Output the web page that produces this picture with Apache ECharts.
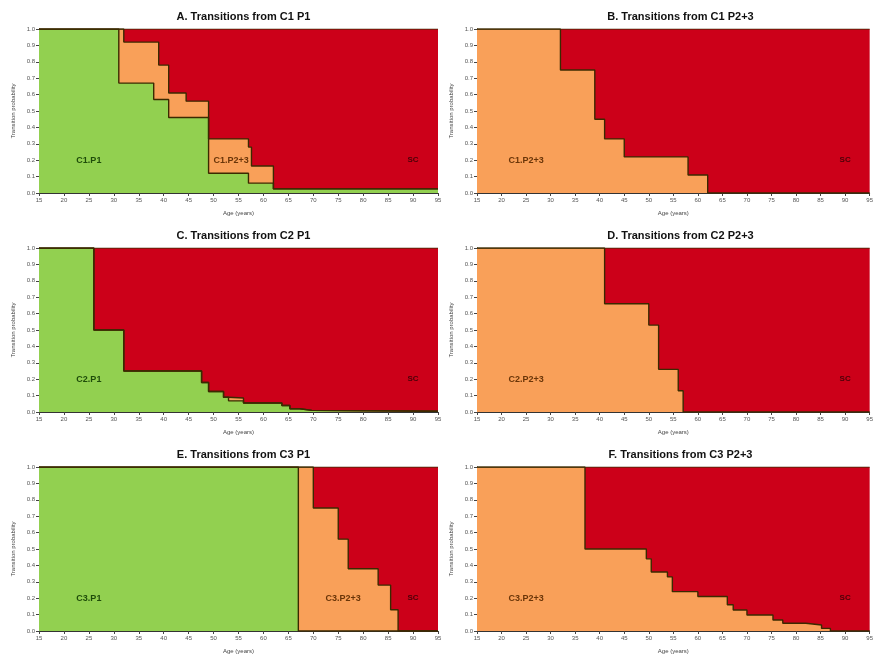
<!DOCTYPE html>
<html>
<head>
<meta charset="utf-8">
<script src="https://cdn.jsdelivr.net/npm/echarts@6/dist/echarts.min.js"></script>
<style>html,body{margin:0;padding:0;background:#fff}#c{width:876px;height:657px}</style>
</head>
<body>
<div id="c"></div>
<script>
// ---- Data (age, transition probability boundary) ----
const xTicksMin = 15, xTicksMax = 95;
const SC_TOP = [[15, 1], [95, 1]];

// A. C1 P1 : green boundary (C1.P1) and cumulative (C1.P1 + C1.P2+3)
const A_P1 = [[15, 1], [31, 0.67], [38, 0.57], [41, 0.46], [49, 0.12], [57, 0.06], [62, 0.025], [95, 0.025]];
const A_P23 = [[15, 1], [32, 0.92], [39, 0.78], [41, 0.61], [44.5, 0.56], [49, 0.33], [57, 0.28], [57.6, 0.165], [62, 0.025], [95, 0.025]];

// B. C1 P2+3
const B_P23 = [[15, 1], [32, 0.75], [39, 0.45], [41, 0.33], [45, 0.22], [58, 0.11], [62, 0], [95, 0]];

// C. C2 P1
const C_P1 = [[15, 1], [26, 0.5], [32, 0.25], [47.6, 0.18], [49, 0.125], [52, 0.09], [53, 0.068], [56, 0.055], [63.7, 0.04], [65.3, 0.02], [67.3, 0.01], [69.7, 0.005], [95, 0.005]];
const C_P23 = [[15, 1], [26, 0.5], [32, 0.25], [47.6, 0.18], [49, 0.125], [52, 0.09], [53, 0.085], [56, 0.055], [63.7, 0.04], [65.3, 0.02], [67.3, 0.01], [69.7, 0.005], [95, 0.005]];

// D. C2 P2+3
const D_P23 = [[15, 1], [41, 0.66], [50, 0.53], [52, 0.26], [56, 0.13], [57, 0], [95, 0]];

// E. C3 P1
const E_P1 = [[15, 1], [67, 0], [95, 0]];
const E_P23 = [[15, 1], [70, 0.75], [75, 0.56], [77, 0.38], [83, 0.28], [85.5, 0.13], [87, 0], [95, 0]];

// F. C3 P2+3
const F_P23 = [[15, 1], [37, 0.5], [49.5, 0.44], [50.5, 0.36], [53.8, 0.33], [54.8, 0.24], [60, 0.21], [66, 0.16], [67.2, 0.128], [70, 0.098], [75.3, 0.067], [77.3, 0.047], [82, 0.037], [85.2, 0.016], [87, 0], [95, 0]];

const titles = ['A. Transitions from C1 P1', 'B. Transitions from C1 P2+3', 'C. Transitions from C2 P1',
                'D. Transitions from C2 P2+3', 'E. Transitions from C3 P1', 'F. Transitions from C3 P2+3'];

// ---- Styles ----
const GREEN = '#92d050', ORANGE = '#f9a059', RED = '#cc0019';
const EDGE = '#3b2a00';
const FONT = 'Liberation Sans, Arial, sans-serif';

const panels = [
  { p1: A_P1, p23: A_P23, l1: ['C1.P1', 25], l23: ['C1.P2+3', 53.5], sc: 90 },
  { p1: null, p23: B_P23, l1: null, l23: ['C1.P2+3', 25], sc: 90 },
  { p1: C_P1, p23: C_P23, l1: ['C2.P1', 25], l23: null, sc: 90 },
  { p1: null, p23: D_P23, l1: null, l23: ['C2.P2+3', 25], sc: 90 },
  { p1: E_P1, p23: E_P23, l1: ['C3.P1', 25], l23: ['C3.P2+3', 76], sc: 90 },
  { p1: null, p23: F_P23, l1: null, l23: ['C3.P2+3', 25], sc: 90 }
];

const grids = [], xAxes = [], yAxes = [], series = [], titleOpts = [];
const LEFTS = [39, 477], WIDTHS = [399, 397], TOPS = [29, 248, 467], H = 164;

panels.forEach((p, i) => {
  const col = i % 2, row = Math.floor(i / 2);
  grids.push({ left: LEFTS[col], top: TOPS[row], width: WIDTHS[col], height: H });
  titleOpts.push({
    text: titles[i], left: LEFTS[col] + WIDTHS[col] / 2, top: TOPS[row] - 23, textAlign: 'center',
    textStyle: { fontFamily: FONT, fontSize: 11, fontWeight: 'bold', color: '#111' }
  });
  xAxes.push({
    gridIndex: i, type: 'value', min: xTicksMin, max: xTicksMax, interval: 5,
    name: 'Age (years)', nameLocation: 'middle', nameGap: 17,
    nameTextStyle: { fontFamily: FONT, fontSize: 6, color: '#444' },
    axisLine: { onZero: false, lineStyle: { color: '#333', width: 1 } },
    axisTick: { length: 3, lineStyle: { color: '#444' } },
    axisLabel: { fontFamily: FONT, fontSize: 6, color: '#555', margin: 4 },
    splitLine: { show: false }
  });
  yAxes.push({
    gridIndex: i, type: 'value', min: 0, max: 1, interval: 0.1,
    name: 'Transition probability', nameLocation: 'middle', nameGap: 23,
    nameTextStyle: { fontFamily: FONT, fontSize: 6, color: '#444' },
    axisLine: { show: true, lineStyle: { color: '#333', width: 1 } },
    axisTick: { show: true, length: 3, lineStyle: { color: '#444' } },
    axisLabel: { fontFamily: FONT, fontSize: 6, color: '#555', margin: 4, formatter: v => v.toFixed(1) },
    splitLine: { show: false }
  });
  const mk = (name, x, color, size) => ({
    symbol: 'circle', symbolSize: 1, itemStyle: { color: 'transparent' },
    label: { show: true, formatter: name, color: color, fontFamily: FONT, fontSize: size, fontWeight: 'bold', position: 'inside' },
    data: [{ coord: [x, 0.2] }]
  });
  const base = { type: 'line', xAxisIndex: i, yAxisIndex: i, step: 'end', symbol: 'none', silent: true, animation: false };
  series.push(Object.assign({}, base, {
    name: 'SC', data: SC_TOP, lineStyle: { color: EDGE, width: 1 }, areaStyle: { color: RED, opacity: 1 },
    markPoint: mk('SC', p.sc, '#4a0008', 8)
  }));
  series.push(Object.assign({}, base, {
    name: 'P2+3', data: p.p23, lineStyle: { color: EDGE, width: 1.4 }, areaStyle: { color: ORANGE, opacity: 1 },
    markPoint: p.l23 ? mk(p.l23[0], p.l23[1], '#6a3508', 9) : undefined
  }));
  if (p.p1) {
    series.push(Object.assign({}, base, {
      name: 'P1', data: p.p1, lineStyle: { color: EDGE, width: 1.4 }, areaStyle: { color: GREEN, opacity: 1 },
      markPoint: mk(p.l1[0], p.l1[1], '#1f4d0a', 9)
    }));
  }
});

const chart = echarts.init(document.getElementById('c'));
chart.setOption({
  animation: false,
  backgroundColor: '#fff',
  title: titleOpts,
  grid: grids, xAxis: xAxes, yAxis: yAxes, series: series
});
</script>
</body>
</html>
